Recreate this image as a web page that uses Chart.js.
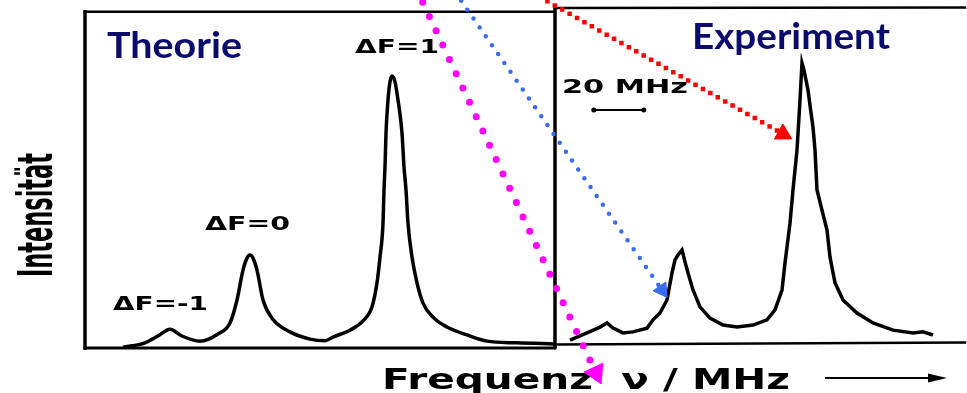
<!DOCTYPE html>
<html>
<head>
<meta charset="utf-8">
<script src="https://cdn.jsdelivr.net/npm/chart.js@4.4.1/dist/chart.umd.min.js"></script>
<style>
    html, body { margin: 0; padding: 0; background: #fff; }
    #wrap { position: relative; width: 967px; height: 393px; }
</style>
</head>
<body>
<div id="wrap"><canvas id="chart"></canvas></div>
<script>
// Theorie: Frequenz (MHz) / Intensität (willk. Einheiten)
const theoryFreq = [15.2, 24, 29.2, 34, 38.8, 46, 53.2, 58, 60.8, 63.2, 64.8, 66, 67.2, 68.8, 71.2, 74.8, 82, 90, 96,
    99.2, 106, 111.2, 114.8, 116.8, 118, 119.2, 119.6, 120, 120.4, 121.2, 122, 122.8, 124, 125.2, 126.8, 127.6,
    128.4, 129.2, 130.8, 132.8, 135.2, 139.2, 144.8, 152.8, 160.8, 172.8, 187.6];
const theoryInt = [0.2, 1.5, 3.5, 5.5, 3.5, 2.0, 4.1, 7.3, 14.0, 22.7, 26.2, 27.1, 26.2, 22.7, 14.0, 8.7, 4.7, 2.6, 2.1,
    3.2, 5.2, 7.9, 12.0, 19.0, 26.5, 36.4, 46.1, 52.8, 62.7, 72.3, 77.6, 79.3, 77.6, 72.3, 62.7, 52.8,
    46.1, 36.4, 26.5, 19.0, 13.1, 9.0, 6.1, 3.8, 2.0, 1.5, 1.2];

// Experiment
const expFreq = [194, 200.8, 206, 208.8, 211.2, 215.2, 219.2, 224.8, 227.2, 230, 232.8, 234.8, 236, 237.2, 238.8, 240,
    241.2, 243.2, 246, 250, 255.2, 260.8, 267.2, 272.8, 276, 278.8, 280, 282, 283.2, 284.8, 286, 286.8, 287.6,
    289.2, 290, 291.2, 292, 292.8, 294.8, 296.8, 298, 300, 303.2, 308.8, 315.2, 323.2, 331.2, 335.2, 339.2];
const expInt = [2.3, 4.4, 6.1, 7.3, 5.8, 4.4, 4.7, 5.8, 8.2, 10.2, 14.0, 21.9, 25.7, 27.1, 28.6, 25.1,
    21.9, 16.9, 12.0, 8.7, 6.7, 6.1, 6.7, 8.2, 11.1, 16.9, 24.8, 36.4, 46.1, 57.7, 72.3, 83.1, 81.0,
    75.2, 70.8, 64.4, 57.7, 46.1, 40.2, 34.4, 26.5, 19.0, 14.0, 10.2, 7.3, 5.2, 4.4, 4.7, 3.8];

// Massstab 20 MHz
const scaleBarFreq = [203.5, 223.5];
const scaleBarInt = [69.4, 69.4];

// Pfeile (Start, Spitze)
const arrowMagenta = [{ x: 132.4, y: 105 }, { x: 204.4, y: -7.3 }];
const arrowBlue = [{ x: 148, y: 103.8 }, { x: 230.8, y: 16.9 }];
const arrowRed = [{ x: 182, y: 102.3 }, { x: 279.2, y: 62.4 }];

const toXY = (xs, ys) => xs.map((v, i) => ({ x: v, y: ys[i] }));

function seg(ctx, x1, y1, x2, y2, w) {
    ctx.lineWidth = w;
    ctx.beginPath();
    ctx.moveTo(x1, y1);
    ctx.lineTo(x2, y2);
    ctx.stroke();
}

// Text auf feste Breite bringen
function fitText(ctx, text, x, y, w, font, color) {
    ctx.save();
    ctx.font = font;
    ctx.fillStyle = color;
    const m = ctx.measureText(text).width;
    ctx.translate(x, y);
    ctx.scale(w / m, 1);
    ctx.fillText(text, 0, 0);
    ctx.restore();
}

const framePlugin = {
    id: 'frame',
    beforeDatasetsDraw(chart) {
        const { ctx, scales: { x, y } } = chart;
        const px = v => x.getPixelForValue(v);
        const py = v => y.getPixelForValue(v);
        ctx.save();
        ctx.strokeStyle = '#000';
        ctx.lineCap = 'square';

        // linkes Feld
        seg(ctx, px(0), py(98), px(0), py(0), 3.5);
        seg(ctx, px(0), py(98), px(188), py(98), 2.5);
        seg(ctx, px(0), py(0), px(188), py(0), 3);
        // Trennlinie
        seg(ctx, px(188), py(99.1), px(188), py(0.6), 3.5);
        // rechtes Feld
        seg(ctx, px(188), py(99.1), px(352), py(99.3), 2.5);
        seg(ctx, px(188), py(1.0), px(352), py(1.6), 2.5);

        const black = '#000';
        const navy = '#0b0b6e';
        fitText(ctx, 'Theorie', 107, 58, 135, 'bold 37px Lato', navy);
        fitText(ctx, 'Experiment', 692, 49, 198, 'bold 37px Lato', navy);

        fitText(ctx, 'ΔF=1', 355, 53, 84, 'bold 19px "DejaVu Sans"', black);
        fitText(ctx, 'ΔF=0', 205, 230, 85, 'bold 19px "DejaVu Sans"', black);
        fitText(ctx, 'ΔF=-1', 113, 310, 95, 'bold 19px "DejaVu Sans"', black);
        fitText(ctx, '20 MHz', 562, 93, 126, 'bold 19px "DejaVu Sans"', black);

        // Achsenbeschriftungen
        ctx.save();
        ctx.translate(52, 277);
        ctx.rotate(-Math.PI / 2);
        fitText(ctx, 'Intensität', 0, 0, 124, 'bold 48px "DejaVu Sans Condensed"', black);
        ctx.restore();

        fitText(ctx, 'Frequenz  ν / MHz', 382, 389, 408, 'bold 28px "DejaVu Sans"', black);
        ctx.lineCap = 'butt';
        seg(ctx, 825, 378, 932, 378, 2);
        ctx.fillStyle = black;
        ctx.beginPath();
        ctx.moveTo(947, 378);
        ctx.lineTo(928, 373.5);
        ctx.lineTo(928, 382.5);
        ctx.closePath();
        ctx.fill();
        ctx.restore();
    }
};

const arrowSet = (data, color, width, dash, cap, head, rot, order) => ({
    data: data,
    borderColor: color,
    borderWidth: width,
    borderDash: dash,
    borderCapStyle: cap,
    pointRadius: [0, head],
    pointStyle: 'triangle',
    pointRotation: rot,
    pointBackgroundColor: color,
    pointBorderColor: color,
    pointBorderWidth: 1,
    clip: false,
    order: order
});

new Chart(document.getElementById('chart'), {
    type: 'line',
    data: {
        datasets: [
            arrowSet(arrowMagenta, '#ff00ff', 7, [0, 15.8], 'round', 12, 154.9, 0),
            arrowSet(arrowBlue, '#3a6cf2', 4.5, [0, 10.8], 'round', 9, 145.2, 1),
            arrowSet(arrowRed, '#ff0000', 4.5, [0, 8.5], 'square', 10, 119.4, 2),
            {
                data: toXY(scaleBarFreq, scaleBarInt),
                borderColor: '#000',
                borderWidth: 2,
                pointRadius: 2.5,
                pointBackgroundColor: '#000',
                pointBorderWidth: 0,
                order: 3
            },
            {
                data: toXY(expFreq, expInt),
                borderColor: '#000',
                borderWidth: 3.5,
                tension: 0,
                pointRadius: 0,
                order: 4
            },
            {
                data: toXY(theoryFreq, theoryInt),
                borderColor: '#000',
                borderWidth: 3.5,
                cubicInterpolationMode: 'monotone',
                pointRadius: 0,
                order: 5
            }
        ]
    },
    options: {
        responsive: true,
        maintainAspectRatio: false,
        animation: false,
        events: [],
        layout: { autoPadding: false, padding: { left: 85, right: 2, top: 5, bottom: 3 } },
        scales: {
            x: { type: 'linear', min: 0, max: 352, display: false },
            y: { min: -12.245, max: 100, display: false }
        },
        plugins: {
            legend: { display: false },
            tooltip: { enabled: false }
        }
    },
    plugins: [framePlugin]
});
</script>
</body>
</html>
